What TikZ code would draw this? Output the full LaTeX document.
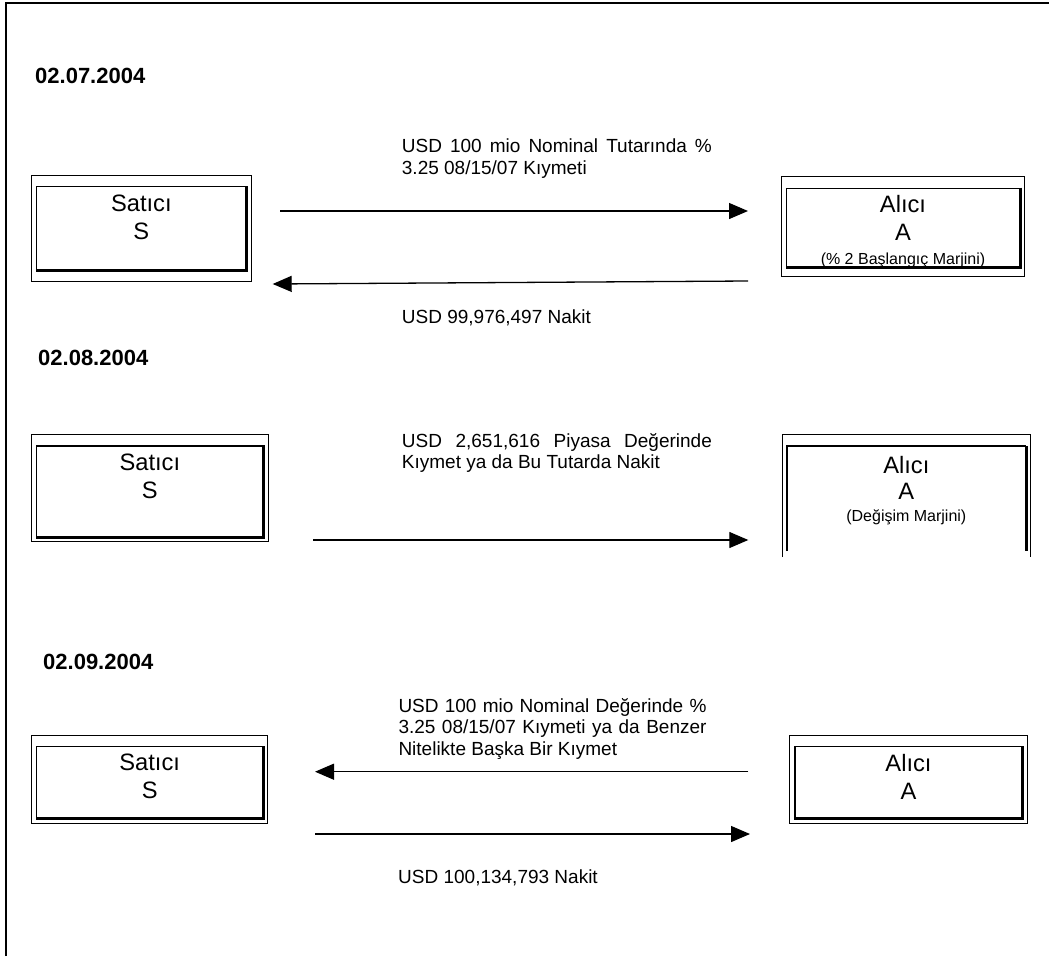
\documentclass[tikz,border=0pt]{standalone}
\usepackage{fontspec}
\setmainfont{Liberation Sans}
\usetikzlibrary{arrows.meta,positioning}

% justified line of an arrow label
\newcommand{\satir}[2][310pt]{\makebox[#1][s]{#2}}
% double framed box: name, centre, width, height, bottom gap
\newcommand{\kutu}[5]{%
	\node[ickutu,minimum width=#3,minimum height=#4] (#1) at (#2) {};
	\draw[diskutu] ([xshift=-4.5pt,yshift=11pt]#1.north west) rectangle ([xshift=4.5pt,yshift=-#5]#1.south east);
	\draw[golge] (#1.north east) -- (#1.south east) -- (#1.south west);}

\begin{document}
\begin{tikzpicture}[x=1pt,y=-1pt]
	\tikzset{>={Triangle[length=19pt,width=16pt]},
		ickutu/.style={draw,line width=1.4pt,inner sep=0pt},
		diskutu/.style={line width=0.9pt},
		golge/.style={line width=3pt},
		kutuyazi/.style={inner sep=0pt,align=center,font=\fontsize{23.7}{28}\selectfont},
		aciklama/.style={inner sep=0pt,align=left,anchor=north west,font=\fontsize{19}{21.7}\selectfont},
		tutar/.style={inner sep=0pt,anchor=base west,font=\fontsize{19}{21.7}\selectfont},
		tarih/.style={inner sep=0pt,anchor=base west,font=\fontsize{22}{26}\selectfont\bfseries},
		ok/.style={->,line width=1.3pt}}
	
	\useasboundingbox (0,0) rectangle (1049,956);
	\draw[line width=1.6pt] (6,956) -- (6,3) -- (1049,3);
	
	% 02.07.2004
	\node[tarih] (t1) at (35,83) {02.07.2004};
	\kutu{S1}{141.35,228.35}{209.3}{83.3}{11pt}
	\kutu{A1}{903,227.5}{232.6}{78.4}{9.3pt}
	\node[kutuyazi,below=8.5pt of S1.north] (S1y) {Satıcı\\S};
	\node[kutuyazi,below=8pt of A1.north] (A1y) {Alıcı\\A\\[-4pt]{\fontsize{16}{19}\selectfont(\% 2 Başlangıç Marjini)}};
	
	\coordinate (o1b) at (280,211);
	\coordinate (o1s) at (748,211);
	\draw[ok] (o1b) -- (o1s);
	\coordinate (d1b) at (748,281);
	\coordinate (d1s) at (272.7,284);
	\draw[ok] (d1b) -- (d1s);
	\node[aciklama] (e1) at (401.7,138.8) {\satir{USD 100 mio Nominal Tutarında \%}\\3.25 08/15/07 Kıymeti};
	\node[tutar] (n1) at (401.7,323) {USD 99,976,497 Nakit};
	
	% 02.08.2004
	\node[tarih] (t2) at (38,365) {02.08.2004};
	\kutu{S2}{149.85,491.35}{226.3}{90.7}{4.3pt}
	% this one is open at the bottom
	\node[inner sep=0pt,minimum width=239.3,minimum height=105] (A2) at (906.35,498.5) {};
	\draw[diskutu] ([xshift=-4.5pt,yshift=-6pt]A2.south west) |- ([xshift=4.5pt,yshift=11pt]A2.north east) -- ([xshift=4.5pt,yshift=-6pt]A2.south east);
	\draw[line width=2pt] (A2.south west) |- (A2.north east);
	\draw[golge] (A2.north east) -- (A2.south east);
	\node[kutuyazi,below=8.4pt of S2.north] (S2y) {Satıcı\\S};
	\node[kutuyazi,below=10pt of A2.north] (A2y) {Alıcı\\[-1.5pt]A\\[-6pt]{\fontsize{16}{19}\selectfont(Değişim Marjini)}};
	
	\coordinate (o2b) at (313.3,540);
	\coordinate (o2s) at (748.3,540);
	\draw[ok] (o2b) -- (o2s);
	\node[aciklama] (e2) at (401.7,432.8) {\satir{USD 2,651,616 Piyasa Değerinde}\\Kıymet ya da Bu Tutarda Nakit};
	
	% 02.09.2004
	\node[tarih] (t3) at (43,669) {02.09.2004};
	\kutu{S3}{149.7,782.35}{226}{71.3}{5pt}
	\kutu{A3}{908.5,782.35}{227}{71.3}{5pt}
	\node[kutuyazi,below=7.7pt of S3.north] (S3y) {Satıcı\\S};
	\node[kutuyazi,below=8pt of A3.north] (A3y) {Alıcı\\A};
	
	\coordinate (o3b) at (748.3,771.7);
	\coordinate (o3s) at (315,771.7);
	\draw[ok] (o3b) -- (o3s);
	\coordinate (d3b) at (315,834);
	\coordinate (d3s) at (750,834);
	\draw[ok] (d3b) -- (d3s);
	\node[aciklama] (e3) at (398.3,697.8) {\satir[308pt]{USD 100 mio Nominal Değerinde \%}\\\satir[308pt]{3.25 08/15/07 Kıymeti ya da Benzer}\\Nitelikte Başka Bir Kıymet};
	\node[tutar] (n3) at (398,883) {USD 100,134,793 Nakit};
	
\end{tikzpicture}
\end{document}
